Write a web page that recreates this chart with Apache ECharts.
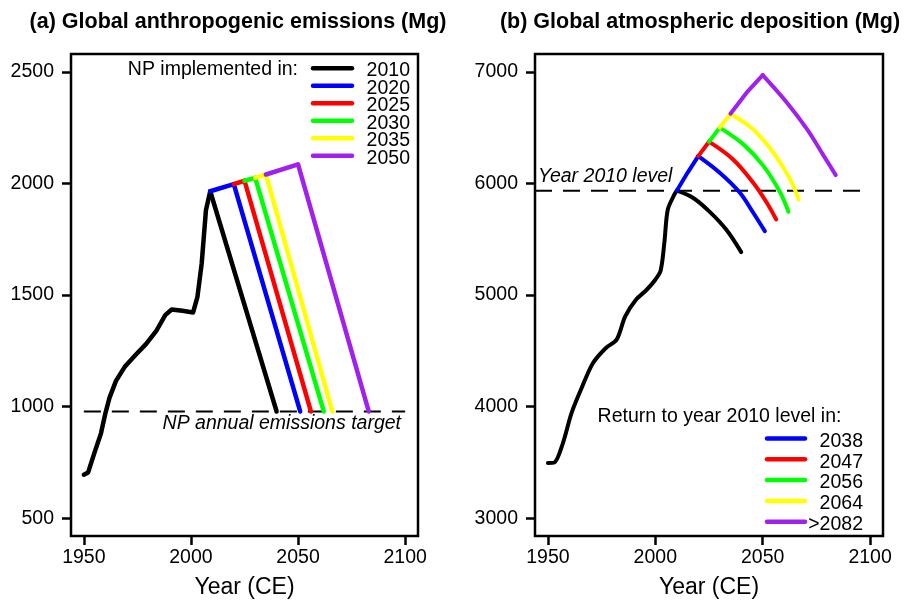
<!DOCTYPE html>
<html>
<head>
<meta charset="utf-8">
<script src="https://cdn.jsdelivr.net/npm/echarts@6/dist/echarts.min.js"></script>
<style>
html,body{margin:0;padding:0;background:#fff;}
#chart{width:913px;height:602px;}
</style>
</head>
<body>
<div id="chart"></div>
<script>
// ---------------- DATA ----------------
// Panel (a): global anthropogenic emissions (Mg)
var emisBaseYears  = [1950,1952,1955,1958,1960,1962,1965,1969,1974,1979,1984,1988,1991,1996,2001,2003,2005,2006,2007,2009];
var emisBaseValues = [695,705,795,880,968,1040,1115,1177,1230,1280,1342,1410,1435,1429,1422,1490,1640,1760,1880,1965];
var npYears  = ['2010','2020','2025','2030','2035','2050'];
var npColors = ['#000000','#0000ff','#ff0000','#00ff00','#ffff00','#a020f0'];
var emis2010Years = [2009,2040];            var emis2010Values = [1965,978];
var emis2020Years = [2009,2020,2051];       var emis2020Values = [1965,1997,978];
var emis2025Years = [2020,2025,2056];       var emis2025Values = [1997,2012,978];
var emis2030Years = [2025,2030,2062];       var emis2030Values = [2012,2025,978];
var emis2035Years = [2030,2035,2066];       var emis2035Values = [2025,2040,978];
var emis2050Years = [2035,2050,2083];       var emis2050Values = [2040,2085,978];
var npTarget = 978;

// Panel (b): global atmospheric deposition (Mg)
var depBaseYears  = [1950,1953,1957,1961,1966,1971,1977,1982,1986,1991,1996,2000,2002.5,2004.2,2005.8,2008.9,2010];
var depBaseValues = [3495,3499,3673,3942,4180,4390,4525,4600,4808,4957,5047,5137,5220,5465,5764,5901,5935];
var returnYears = ['2038','2047','2056','2064','>2082'];
var dep2010Years = [2010,2017.5,2025,2033,2040];          var dep2010Values = [5935,5872,5752,5587,5384];
var dep2020Years = [2010,2015,2020,2030,2039.4,2045.6,2051]; var dep2020Values = [5935,6095,6245,6096,5917,5737,5572];
var dep2025Years = [2020,2025,2036.2,2045.6,2051.9,2056.3];  var dep2025Values = [6245,6374,6215,6006,5827,5677];
var dep2030Years = [2025,2030,2041,2050.4,2058.2,2062];      var dep2030Values = [6374,6500,6350,6155,5917,5746];
var dep2035Years = [2030,2035,2045.6,2055,2062.8,2066.7];    var dep2035Values = [6500,6625,6484,6275,6036,5856];
var dep2050Years = [2035,2042.5,2050,2061.3,2070.7,2078.5,2084]; var dep2050Values = [6625,6813,6971,6724,6484,6245,6074];
var level2010 = 5935;

var xTicks = [1950,2000,2050,2100];
var emisTicks = [500,1000,1500,2000,2500];
var depTicks = [3000,4000,5000,6000,7000];

// ---------------- BUILD ----------------
function zip(xs, ys){ return xs.map(function(x,i){ return [x, ys[i]]; }); }
var FONT = 'Liberation Sans, Arial, Helvetica, sans-serif';
var series = [];
function addLine(idx, data, color, width, smooth){
  series.push({type:'line', xAxisIndex:idx, yAxisIndex:idx, data:data, showSymbol:false,
    smooth: smooth || false, animation:false, silent:true,
    lineStyle:{color:color, width:width, cap:'round', join:'round'}});
}
function addScenario(idx, xs, ys, color, width, smoothFall){
  var data = zip(xs, ys);
  var pk = 0;
  ys.forEach(function(v,i){ if (v > ys[pk]) pk = i; });
  if (pk > 0) addLine(idx, data.slice(0, pk+1), color, width, false);
  addLine(idx, data.slice(pk), color, width, smoothFall ? 0.35 : false);
}
// dashed reference lines
series.push({type:'line', xAxisIndex:0, yAxisIndex:0, data:[[1950,npTarget],[2100,npTarget]], showSymbol:false, animation:false, silent:true,
  lineStyle:{color:'#000', width:2, type:[17,11]}});
series.push({type:'line', xAxisIndex:1, yAxisIndex:1, data:[[1944,level2010],[2100,level2010]], showSymbol:false, animation:false, silent:true,
  lineStyle:{color:'#000', width:2, type:[17,11]}});

// panel a
addLine(0, zip(emisBaseYears, emisBaseValues), '#000', 4.5, false);
var emisSets = [[emis2010Years,emis2010Values],[emis2020Years,emis2020Values],[emis2025Years,emis2025Values],
                [emis2030Years,emis2030Values],[emis2035Years,emis2035Values],[emis2050Years,emis2050Values]];
emisSets.forEach(function(s,i){ addScenario(0, s[0], s[1], npColors[i], 4.5, false); });

// panel b
addLine(1, zip(depBaseYears, depBaseValues), '#000', 4, 0.3);
var depSets = [[dep2010Years,dep2010Values],[dep2020Years,dep2020Values],[dep2025Years,dep2025Values],
               [dep2030Years,dep2030Values],[dep2035Years,dep2035Values],[dep2050Years,dep2050Values]];
depSets.forEach(function(s,i){ addScenario(1, s[0], s[1], npColors[i], 4, true); });

function plain(v){ return String(v); }
function xAxisDef(idx){
  return {type:'value', gridIndex:idx, min:1944, max:2106,
    name:'Year (CE)', nameLocation:'middle', nameGap:40,
    nameTextStyle:{fontFamily:FONT, fontSize:23, color:'#000'},
    axisLine:{show:false}, splitLine:{show:false},
    axisTick:{show:true, inside:false, length:9, customValues:xTicks, lineStyle:{color:'#000', width:2.5}},
    axisLabel:{show:true, margin:12, customValues:xTicks, formatter:plain, fontFamily:FONT, fontSize:19.5, color:'#000'}};
}
function yAxisDef(idx, min, max, ticks){
  return {type:'value', gridIndex:idx, min:min, max:max,
    axisLine:{show:false}, splitLine:{show:false},
    axisTick:{show:true, inside:false, length:9, customValues:ticks, lineStyle:{color:'#000', width:2.5}},
    axisLabel:{show:true, margin:17, customValues:ticks, formatter:plain, fontFamily:FONT, fontSize:19.5, color:'#000'}};
}

var graphics = [];
function txt(x, y, s, opt){
  opt = opt || {};
  graphics.push({type:'text', x:x, y:y, silent:true, style:{text:s, fill:'#000',
    font:(opt.italic?'italic ':'') + (opt.bold?'bold ':'') + (opt.size||19.5) + 'px ' + FONT,
    textAlign:opt.align||'left', textVerticalAlign:'middle'}});
}
function seg(x1, x2, y, color){
  graphics.push({type:'line', silent:true, shape:{x1:x1, y1:y, x2:x2, y2:y}, style:{stroke:color, lineWidth:4.5, lineCap:'round'}});
}
// titles
txt(238, 22, '(a) Global anthropogenic emissions (Mg)', {bold:true, size:21.5, align:'center'});
txt(700, 22, '(b) Global atmospheric deposition (Mg)', {bold:true, size:21.5, align:'center'});
// legend a
txt(298, 69.5, 'NP implemented in:', {align:'right'});
npYears.forEach(function(y,i){
  seg(313, 352, 68.3 + i*17.5, npColors[i]);
  txt(410, 71 + i*17.5, y, {align:'right'});
});
txt(401, 423.5, 'NP annual emissions target', {italic:true, align:'right'});
// legend b
txt(719.5, 416.7, 'Return to year 2010 level in:', {align:'center'});
returnYears.forEach(function(y,i){
  seg(767, 805, 438.5 + i*20.8, npColors[i+1]);
  txt(863, 441.5 + i*20.8, y, {align:'right'});
});
txt(538, 176.7, 'Year 2010 level', {italic:true, align:'left'});

var chart = echarts.init(document.getElementById('chart'), null, {renderer:'canvas'});
chart.setOption({
  backgroundColor:'#fff',
  animation:false,
  grid:[
    {left:71, top:54, width:347, height:482, containLabel:false, outerBoundsMode:'none', show:true, borderColor:'#000', borderWidth:2.5, backgroundColor:'transparent'},
    {left:535, top:54, width:348, height:482, containLabel:false, outerBoundsMode:'none', show:true, borderColor:'#000', borderWidth:2.5, backgroundColor:'transparent'}
  ],
  xAxis:[xAxisDef(0), xAxisDef(1)],
  yAxis:[yAxisDef(0, 420, 2580, emisTicks), yAxisDef(1, 2840, 7160, depTicks)],
  series:series,
  graphic:graphics
});
</script>
</body>
</html>
